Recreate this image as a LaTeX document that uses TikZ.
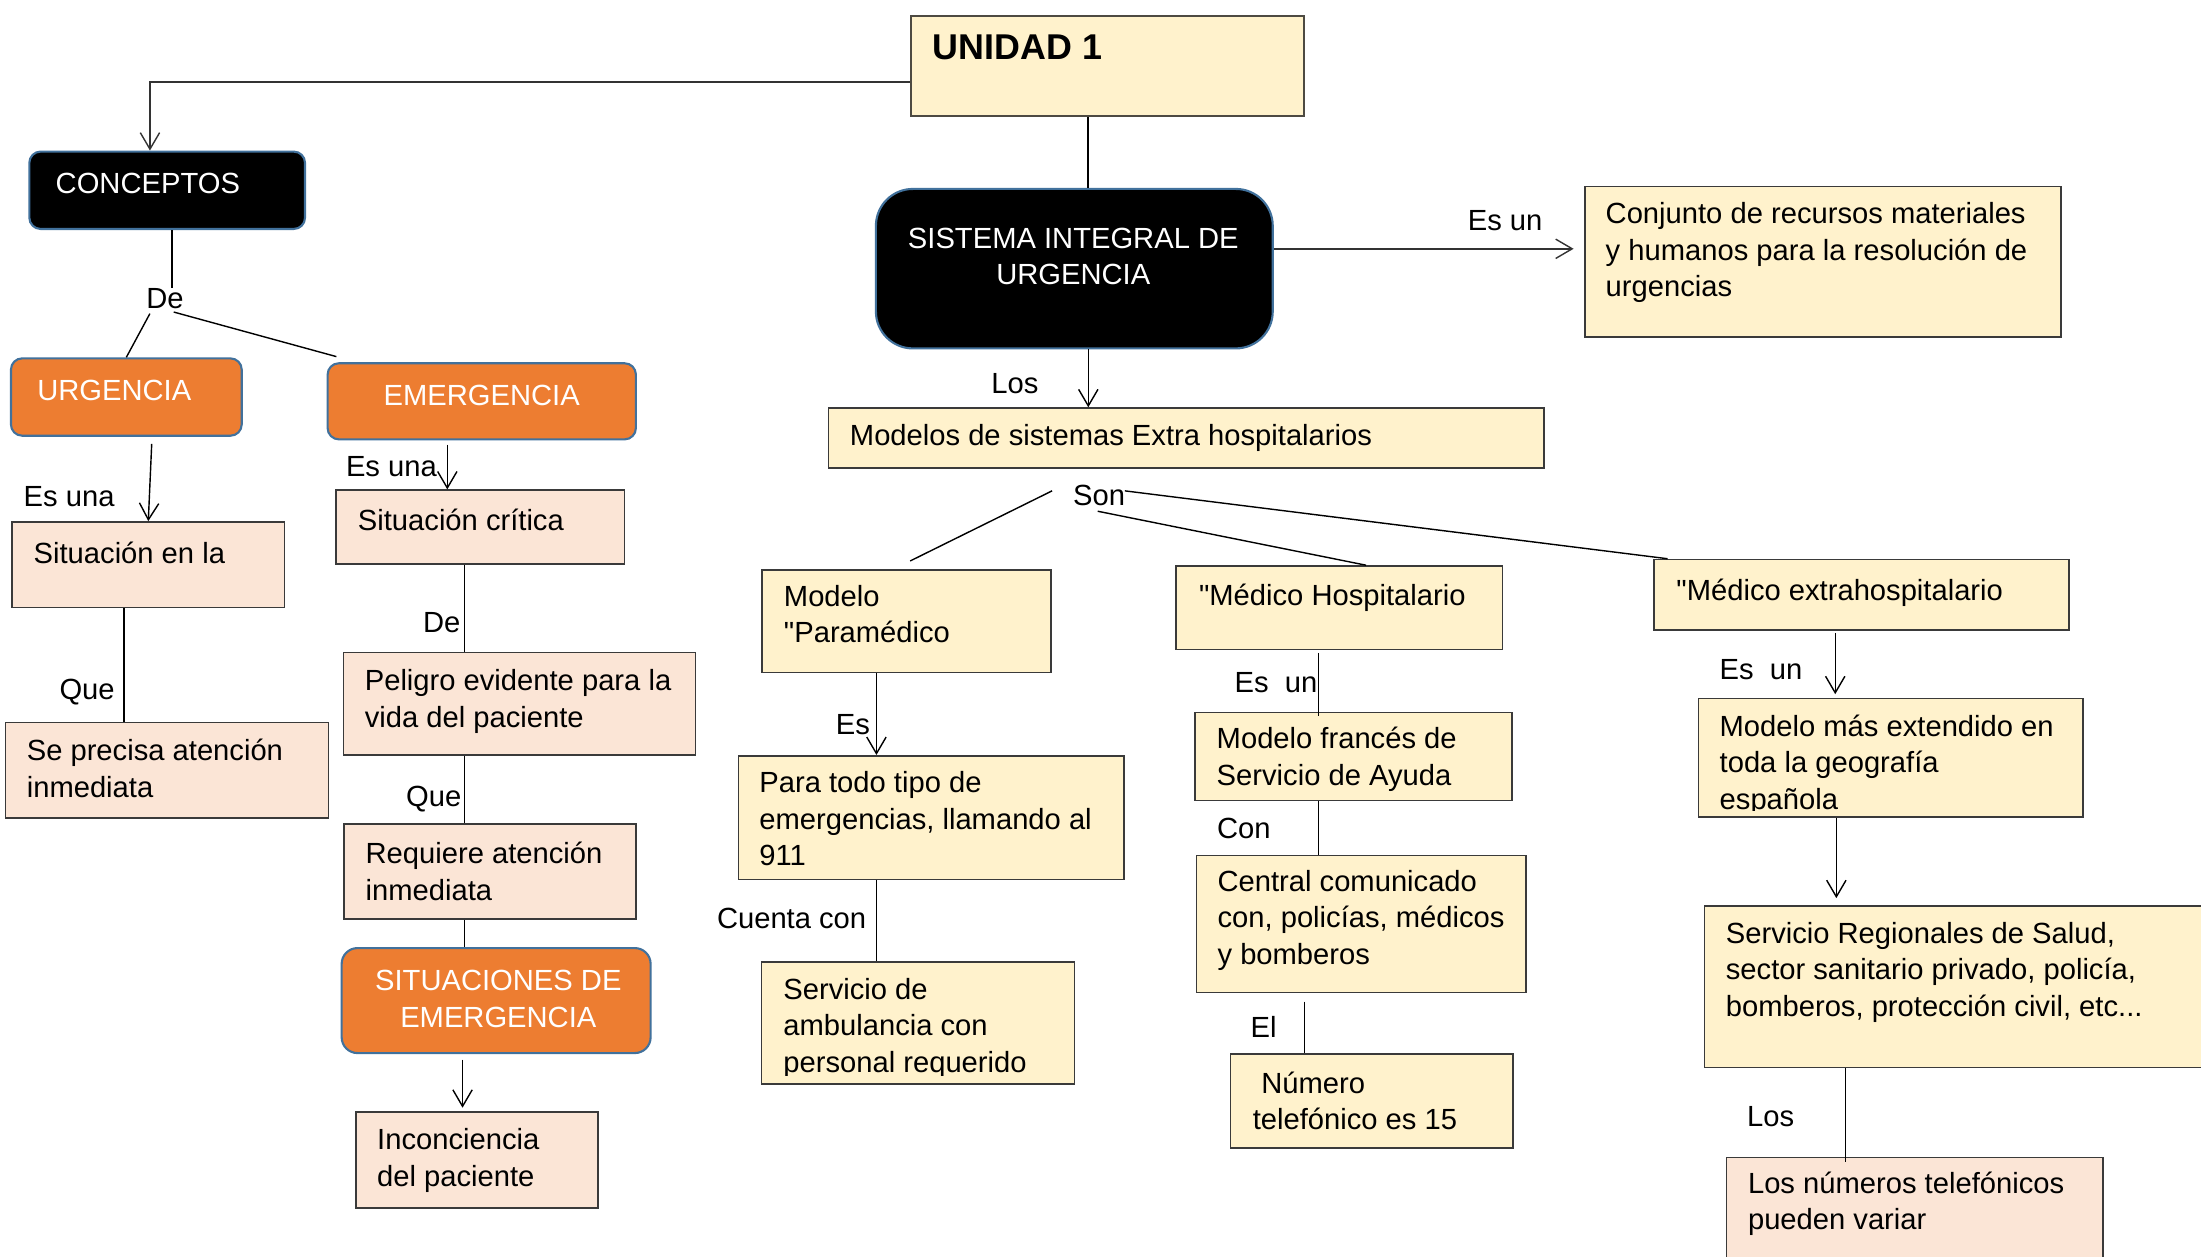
\documentclass[tikz,border=0pt]{standalone}
\usepackage{fontspec}
\setmainfont{Liberation Sans}[Ligatures=TeXOff]
\usetikzlibrary{arrows.meta,calc,fit}
\definecolor{yel}{HTML}{FFF2CC}
\definecolor{pea}{HTML}{FBE5D6}
\definecolor{ora}{HTML}{ED7D31}
\definecolor{blu}{HTML}{41719C}
\definecolor{brd}{HTML}{3A3A3A}
\definecolor{brdu}{HTML}{4D4A42}
\newcommand\fs{\fontsize{8.3}{10.4}\selectfont}
\begin{document}
\begin{tikzpicture}[x=0.014037cm, y=-0.014037cm,
  ybox/.style={draw=brd, fill=yel, line width=0.45pt, inner sep=0pt},
  pbox/.style={draw=brd, fill=pea, line width=0.45pt, inner sep=0pt},
  obox/.style={draw=blu, fill=ora, line width=0.6pt, rounded corners=3.2pt, inner sep=0pt},
  kbox/.style={draw=blu, fill=black, line width=0.6pt, rounded corners=3.2pt, inner sep=0pt},
  txt/.style={anchor=north west, inner sep=0pt, align=left, font=\fs, yshift=7.28pt, execute at begin node=\strut},
  mtxt/.style={txt, yshift=-1pt},
  ctxt/.style={mtxt, anchor=north, align=center},
  lbl/.style={anchor=base west, inner sep=0pt, font=\fs},
  ln/.style={draw=black, line width=0.4pt},
  arr/.style={ln, -{Straight Barb[length=4.7pt,width=5.5pt]}},
]
\useasboundingbox (0,0) rectangle (1568,895);
\fill[white] (0,0) rectangle (1568,895);
\clip (0,0) rectangle (1568,895);

% ---------- boxes ----------
\node[fit={(649.2,11.2) (928.8,82.6)}, draw=brdu, fill=yel, line width=0.6pt, inner sep=0pt] (unidad) {};
\node[anchor=base west, inner sep=0pt, font=\fontsize{10.2}{12}\selectfont\bfseries] (unidadT) at (664.1,42.7) {UNIDAD 1};

\node[kbox, fit={(20.9,108) (217.3,163.1)}] (concep) {};
\node[lbl, text=white] (concepT) at (39.2,137.7) {CONCEPTOS};

\node[obox, fit={(7.8,255.3) (172.2,310.4)}] (urg) {};
\node[lbl, text=white] (urgT) at (26.1,285.4) {URGENCIA};

\node[obox, fit={(233.4,258.8) (453,313)}] (emer) {};
\node[lbl, anchor=base, text=white] (emerT) at (343.2,289) {EMERGENCIA};

\node[pbox, fit={(8.5,371.8) (202.8,432.9)}] (sitEn) {};
\node[txt] (sitEnT) at (23.5,400.6) {Situación en la};

\node[pbox, fit={(3.9,514.6) (233.9,582.7)}] (sePre) {};
\node[mtxt] (sePreT) at (18.6,541.9) {Se precisa atención\\inmediata};

\node[pbox, fit={(239.4,349.2) (444.8,401.8)}] (sitCr) {};
\node[txt] (sitCrT) at (254.5,377.2) {Situación crítica};

\node[pbox, fit={(244.7,464.8) (495.6,538)}] (peli) {};
\node[mtxt] (peliT) at (259.4,492.1) {Peligro evidente para la\\vida del paciente};

\node[pbox, fit={(245,587) (453,654.8)}] (requ) {};
\node[mtxt] (requT) at (260,615.1) {Requiere atención\\inmediata};

\node[obox, rounded corners=4.5pt, fit={(243.4,675.4) (463.5,750.2)}] (situ) {};
\node[ctxt, text=white] (situT) at (355,706.6) {SITUACIONES DE\\EMERGENCIA};

\node[pbox, fit={(253.5,792.2) (426.2,860.4)}] (inco) {};
\node[mtxt] (incoT) at (268.2,819.1) {Inconciencia\\del paciente};

\node[kbox, rounded corners=10.5pt, fit={(624,134.6) (906.7,248.2)}] (sist) {};
\node[ctxt, text=white] (sistT) at (764.6,177.4) {SISTEMA INTEGRAL DE\\URGENCIA};

\node[ybox, fit={(1129.1,133) (1468.3,240.1)}] (conj) {};
\node[mtxt] (conjT) at (1143.4,159.4) {Conjunto de recursos materiales\\y humanos para la resolución de\\urgencias};

\node[ybox, fit={(590.1,290.7) (1100,333.3)}] (mode) {};
\node[txt] (modeT) at (605,317) {Modelos de sistemas Extra hospitalarios};

\node[ybox, fit={(543,406.2) (748.8,479.1)}] (para) {};
\node[mtxt] (paraT) at (558,432.1) {Modelo\\"Paramédico};

\node[ybox, fit={(526,538.4) (800.8,626.5)}] (todo) {};
\node[mtxt] (todoT) at (540.5,564.8) {Para todo tipo de\\emergencias, llamando al\\911};

\node[ybox, fit={(542.6,685.3) (765.4,772.3)}] (ambu) {};
\begin{scope}
\clip (ambu.north west) rectangle ($(ambu.south east)+(0,-6.8)$);
\node[mtxt] (ambuT) at (557.6,711.9) {Servicio de\\ambulancia con\\personal requerido};
\end{scope}

\node[ybox, fit={(837.8,403.2) (1070.5,462.6)}] (hosp) {};
\node[txt] (hospT) at (853.7,431) {"Médico Hospitalario};

\node[ybox, fit={(851.5,507.7) (1077.2,570.4)}] (fran) {};
\node[mtxt] (franT) at (866.3,533.4) {Modelo francés de\\Servicio de Ayuda};

\node[ybox, fit={(852.3,609.4) (1087,707)}] (cent) {};
\node[mtxt] (centT) at (866.9,635.2) {Central comunicado\\con, policías, médicos\\y bomberos};

\node[ybox, fit={(876.7,750.8) (1078,817.8)}] (nume) {};
\node[mtxt] (numeT) at (892,778.7) {\hspace*{2.4pt}Número\\telefónico es 15};

\node[ybox, fit={(1178.5,398.6) (1474,448.8)}] (extra) {};
\node[txt] (extraT) at (1193.8,427.2) {"Médico extrahospitalario};

\node[ybox, fit={(1210,497.6) (1484,582)}] (masE) {};
\begin{scope}
\clip (masE.north west) rectangle ($(masE.south east)+(0,-5.5)$);
\node[mtxt] (masET) at (1224.6,524.3) {Modelo más extendido en\\toda la geografía\\española};
\end{scope}

\node[ybox, fit={(1214.2,645.4) (1590,760.6)}] (regi) {};
\node[mtxt] (regiT) at (1229,672) {Servicio Regionales de Salud,\\sector sanitario privado, policía,\\bomberos, protección civil, etc...};

\node[pbox, fit={(1230,824.7) (1498,910)}] (nums) {};
\node[mtxt] (numsT) at (1244.8,850.1) {Los números telefónicos\\pueden variar};

% ---------- labels ----------
\node[lbl] (deL) at (103.8,219.7) {De};
\node[lbl] (esUnaL) at (16.4,360.9) {Es una};
\node[lbl] (queL) at (41.9,498.3) {Que};
\node[lbl] (esUnaR) at (246,339.5) {Es una};
\node[lbl] (deR) at (300.9,450.4) {De};
\node[lbl] (queR) at (288.8,574.2) {Que};
\node[lbl] (esUn1) at (1045.2,163.9) {Es un};
\node[lbl] (losL) at (705.8,280.2) {Los};
\node[lbl] (son) at (764,360.3) {Son};
\node[lbl] (esL) at (595,522.9) {Es};
\node[lbl] (cuenta) at (510.3,661.2) {Cuenta con};
\node[lbl] (esUn2) at (879.1,493.2) {Es\ \ un};
\node[lbl] (conL) at (866.5,597.4) {Con};
\node[lbl] (elL) at (890.5,738.9) {El};
\node[lbl] (esUn3) at (1224.6,484) {Es\ \ un};
\node[lbl] (los2) at (1244.1,802.2) {Los};

% ---------- connectors ----------
\coordinate (u1) at ($(unidad.north west)!0.658!(unidad.south west)$);
\coordinate (u2) at ($(concep.north west)!0.438!(concep.north east)$);
\draw[arr, draw=black!80] (u1) -| (u2);

\coordinate (u3) at ($(unidad.south west)!0.45!(unidad.south east)$);
\draw[ln] (u3) -- (u3 |- sist.north);

\coordinate (s1) at ($(sist.north east)!0.377!(sist.south east)$);
\draw[arr, draw=black!80, shorten >=3pt] (s1) -- (s1 -| conj.west);

\coordinate (s2) at ($(sist.south west)!0.535!(sist.south east)$);
\draw[arr] (s2) -- (s2 |- mode.north);

\coordinate (k1) at ($(concep.south west)!0.517!(concep.south east)$);
\draw[ln] (k1) -- (k1 |- deL.north);
\draw[ln] ($(deL.south west)+(3,3)$) -- (urg.north);
\draw[ln] ($(deL.south east)+(-7.6,1.9)$) -- ($(emer.north west)+(7,-4)$);

\coordinate (g1) at ($(urg.south west)!0.609!(urg.south east)+(0,5)$);
\draw[arr] (g1) -- (sitEn.north);

\coordinate (g2) at ($(sitEn.south west)!0.411!(sitEn.south east)$);
\draw[ln] (g2) -- (g2 |- sePre.north);

\coordinate (e1) at ($(emer.south west)!0.389!(emer.south east)+(0,3)$);
\draw[arr] (e1) -- (e1 |- sitCr.north);

\coordinate (e2) at ($(sitCr.south west)!0.446!(sitCr.south east)$);
\draw[ln] (e2) -- (e2 |- peli.north);

\coordinate (e3) at ($(peli.south west)!0.345!(peli.south east)$);
\draw[ln] (e3) -- (e3 |- requ.north);

\coordinate (e4) at ($(requ.south west)!0.413!(requ.south east)$);
\draw[ln] (e4) -- (e4 |- situ.north);

\coordinate (e5) at ($(situ.south west)!0.392!(situ.south east)+(0,4)$);
\draw[arr, shorten >=1pt] (e5) -- (e5 |- inco.north);

\draw[ln] ($(son.north west)+(-14.5,4.4)$) -- ($(para.north west)!0.512!(para.north east)+(0,-6)$);
\draw[ln] ($(son.south)+(-1,3.2)$) -- ($(hosp.north west)!0.581!(hosp.north east)$);
\draw[ln] ($(son.north east)+(-0.6,4.4)$) -- ($(extra.north west)!0.034!(extra.north east)$);

\coordinate (p1) at ($(para.south west)!0.396!(para.south east)$);
\draw[arr] (p1) -- (p1 |- todo.north);

\coordinate (p2) at ($(todo.south west)!0.358!(todo.south east)$);
\draw[ln] (p2) -- (p2 |- ambu.north);

\coordinate (h1) at ($(hosp.south west)!0.436!(hosp.south east)+(0,2)$);
\draw[ln] (h1) -- ($(h1 |- fran.north)+(0,3)$);

\coordinate (h2) at ($(fran.south west)!0.389!(fran.south east)$);
\draw[ln] (h2) -- (h2 |- cent.north);

\coordinate (h3) at ($(cent.south west)!0.3285!(cent.south east)+(0,6)$);
\draw[ln] (h3) -- (h3 |- nume.north);

\coordinate (x1) at ($(extra.south west)!0.4365!(extra.south east)+(0,1.5)$);
\draw[arr, shorten >=1pt] (x1) -- (x1 |- masE.north);

\coordinate (x2) at ($(masE.south west)!0.359!(masE.south east)$);
\draw[arr, shorten >=2pt] (x2) -- (x2 |- regi.north);

\coordinate (x3) at ($(regi.south west)!0.268!(regi.south east)$);
\draw[ln] (x3) -- ($(x3 |- nums.north)+(0,4)$);
\end{tikzpicture}
\end{document}
